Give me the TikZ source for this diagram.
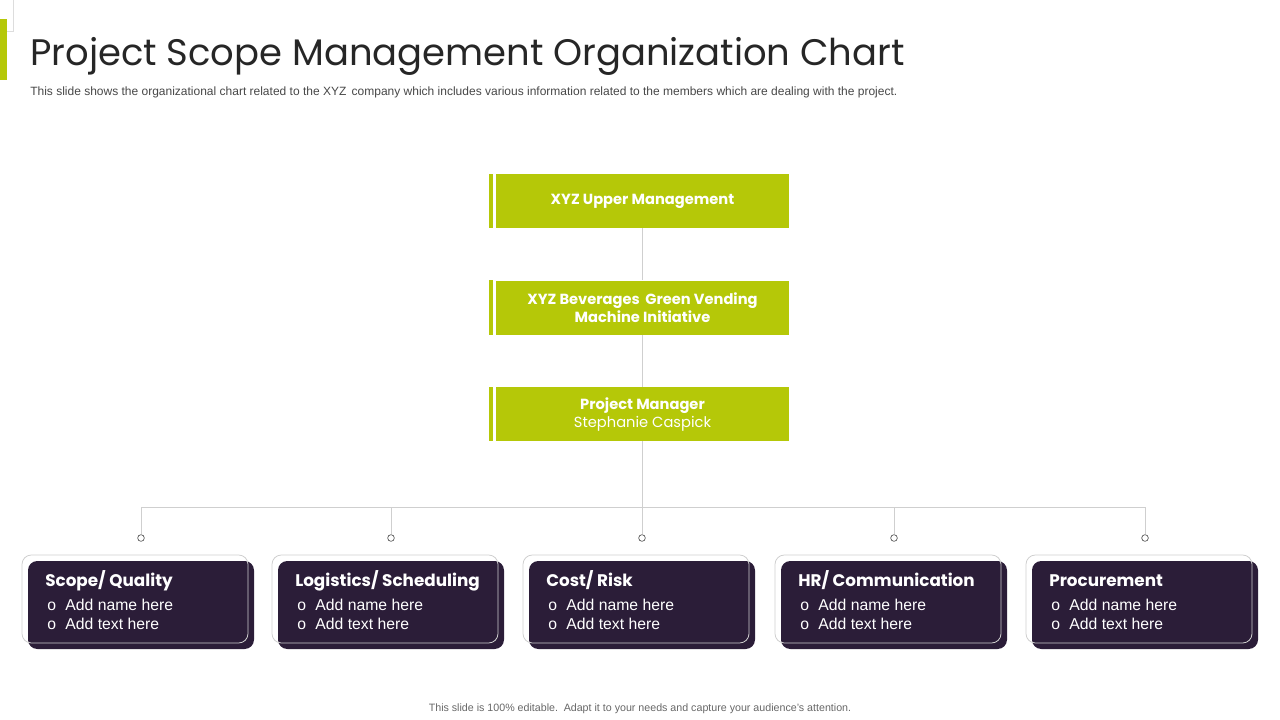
\documentclass[tikz,border=0pt]{standalone}
\usepackage{fontspec}
\setmainfont{Liberation Sans}
\newfontfamily\headfont{Poppins}
\usetikzlibrary{positioning}
\definecolor{limegreen}{HTML}{B5C808}
\definecolor{plum}{HTML}{2B1D38}
\definecolor{titlegray}{HTML}{262626}
\definecolor{linegray}{HTML}{CFCFCF}
\tikzset{
  greenbox/.style={fill=limegreen, minimum width=219.75pt, minimum height=40.5pt, align=center, text=white, font=\headfont\bfseries\fontsize{11}{13.5}\selectfont, inner sep=0pt},
  plumbox/.style={fill=plum, rounded corners=7pt, minimum width=169.5pt, minimum height=66pt, inner sep=0pt},
  rimbox/.style={draw=linegray, line width=0.6pt, rounded corners=7pt, minimum width=169.5pt, minimum height=66pt, inner sep=0pt},
  dot/.style={circle, draw=titlegray!80, line width=0.5pt, fill=white, minimum size=5pt, inner sep=0pt},
  wire/.style={draw=linegray, line width=0.75pt}
}

\begin{document}
\begin{tikzpicture}[x=0.75pt, y=-0.75pt]
   \useasboundingbox (0,0) rectangle (1280,720);

   % Corner accent
   \draw[linegray!70, line width=0.5pt] (0,31) -- (13,31) -- (13,0);
   \fill[limegreen] (0,19) rectangle (7,80);

   % Title and subtitle
   \node[anchor=base west, text=titlegray, font=\headfont\fontsize{27.7}{32}\selectfont, inner sep=0pt] (title) at (30,66) {Project Scope Management Organization Chart};
   \node[anchor=west, text=titlegray!85, font=\fontsize{9}{11}\selectfont, inner sep=0pt] (subtitle) at (30,92) {This slide shows the organizational chart related to the XYZ\, company which includes various information related to the members which are dealing with the project.};

   % Green chain
   \node[greenbox] (upper) at (642.5,201) {\raisebox{-1.5pt}{XYZ Upper Management}};
   \node[greenbox, below=39pt of upper] (vending) {XYZ Beverages\, Green Vending\\Machine Initiative};
   \node[greenbox, below=39pt of vending] (manager) {Project Manager\\{\mdseries Stephanie Caspick}};
   \foreach \n in {upper, vending, manager}
     \fill[limegreen] ([xshift=-5.25pt]\n.north west) rectangle ([xshift=-2.25pt]\n.south west);

   % Bus line
   \coordinate (bus) at (642.5,507);
   \draw[wire] (upper) -- (vending);
   \draw[wire] (vending) -- (manager);
   \draw[wire] (manager) -- (bus);

   % Team boxes
   \foreach \x/\n/\head [count=\i] in {141/scope/{Scope/ Quality}, 391/logistics/{Logistics/ Scheduling}, 642/cost/{Cost/ Risk}, 894/hr/{HR/ Communication}, 1145/procure/{Procurement}} {
     \node[dot] (dot\i) at (\x,538) {};
     \draw[wire] (bus) -| (dot\i.north);
     \node[plumbox] (\n) at (\x,605) {};
     \node[rimbox] (\n rim) at (\x-6,599) {};
     \node[anchor=base west, text=white, font=\headfont\bfseries\fontsize{12.6}{16}\selectfont, inner sep=0pt] (\n head) at (\x-96,586) {\head};
     \node[anchor=west, text=white, font=\fontsize{11.8}{14.25}\selectfont, inner sep=0pt, align=left] (\n list) at (\x-94,614.5) {o\hspace{0.6em}Add name here\\o\hspace{0.6em}Add text here};
   }

   % Footer
   \node[text=titlegray!70, font=\fontsize{8}{10}\selectfont, inner sep=0pt] (footer) at (640,709) {This slide is 100\% editable.\, Adapt it to your needs and capture your audience's attention.};

\end{tikzpicture}
\end{document}
